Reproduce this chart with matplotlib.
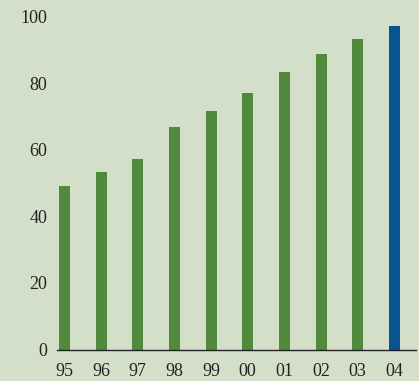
import matplotlib.pyplot as plt

# valores
anos = ["95", "96", "97", "98", "99", "00", "01", "02", "03", "04"]
valores = [49, 53.3, 57.2, 66.8, 71.6, 77, 83.3, 88.7, 93.3, 97.1]
cores = ["#528a3b"] * 9 + ["#08548f"]

fundo = "#d4dfca"

fig = plt.figure(figsize=(4.19, 3.81), dpi=100, facecolor=fundo)
ax = fig.add_axes([57 / 419, 31.5 / 381, 359 / 419, 333 / 381])
ax.set_facecolor(fundo)

x = range(len(anos))
ax.bar(x, valores, width=0.3, color=cores)

ax.set_xlim(-0.2, 9.59)
ax.set_ylim(0, 100)
ax.set_yticks([0, 20, 40, 60, 80, 100])
ax.set_xticks(list(x))
ax.set_xticklabels(anos)

for s in ["left", "right", "top"]:
    ax.spines[s].set_visible(False)
ax.spines["bottom"].set_linewidth(1)
ax.spines["bottom"].set_color("#222222")

ax.tick_params(axis="both", length=0, labelsize=13, colors="#222222")
ax.tick_params(axis="y", pad=7)
ax.tick_params(axis="x", pad=10)
for lab in ax.get_xticklabels() + ax.get_yticklabels():
    lab.set_family("Liberation Serif")

fig.savefig("out.png", dpi=100, facecolor=fundo)
